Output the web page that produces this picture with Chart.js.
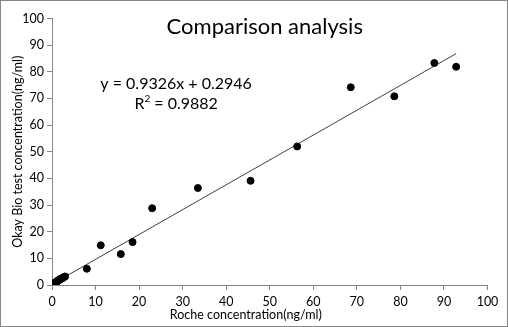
<!DOCTYPE html>
<html>
<head>
<meta charset="utf-8">
<script src="https://cdn.jsdelivr.net/npm/chart.js@4"></script>
<style>
  html, body { margin: 0; padding: 0; background: #fff; }
  #wrap { width: 508px; height: 327px; box-sizing: border-box; border: 1px solid #868686; position: relative; }
  canvas { display: block; }
</style>
</head>
<body>
<div id="wrap"><canvas id="c" width="506" height="325"></canvas></div>
<script>
const rocheValues = [
  0.1, 0.2, 0.3, 0.5, 0.6, 0.8, 0.9, 1.0, 1.1, 1.2, 1.3, 1.4, 1.5, 1.6, 1.8, 1.9, 2.0, 2.2, 2.4, 2.6, 2.8, 3.0,
  8.0, 11.2, 15.8, 18.5, 23.0, 33.5, 45.6, 56.3, 68.6, 78.6, 87.8, 92.8
];
const okayValues = [
  0.2, 0.3, 0.5, 0.6, 0.8, 0.9, 1.1, 1.2, 1.3, 1.4, 1.5, 1.7, 1.8, 1.9, 2.1, 2.2, 2.3, 2.4, 2.6, 2.8, 3.0, 3.2,
  6.1, 14.9, 11.6, 16.1, 28.8, 36.4, 39.1, 52.0, 74.2, 70.8, 83.3, 81.9
];
const slope = 0.9326;
const intercept = 0.2946;
const equationText = "y = 0.9326x + 0.2946";
const r2Text = "0.9882";
const tickValues = [0, 10, 20, 30, 40, 50, 60, 70, 80, 90, 100];
const titleText = "Comparison analysis";
const xTitle = "Roche concentration(ng/ml)";
const yTitle = "Okay Bio test concentration(ng/ml)";

const points = rocheValues.map((x, i) => ({ x: x, y: okayValues[i] }));
const xMin = Math.min(...rocheValues), xMax = Math.max(...rocheValues);
const trend = [
  { x: xMin, y: slope * xMin + intercept },
  { x: xMax, y: slope * xMax + intercept }
];

const FONT = "Lato, 'Open Sans', sans-serif";

const textPlugin = {
  id: 'texts',
  afterDraw(chart) {
    const ctx = chart.ctx;
    const xs = chart.scales.x, ys = chart.scales.y;
    const ca = chart.chartArea;
    ctx.save();
    ctx.fillStyle = '#000';
    ctx.textAlign = 'center';
    ctx.textBaseline = 'middle';
    // title
    ctx.font = "22px " + FONT;
    ctx.fillText(titleText, (ca.left + ca.right) / 2 - 5, 26);
    // axis titles
    ctx.font = "12.5px " + FONT;
    ctx.fillText(xTitle, xs.getPixelForValue(44.5), 314);
    ctx.save();
    ctx.translate(17, ys.getPixelForValue(50));
    ctx.rotate(-Math.PI / 2);
    ctx.fillText(yTitle, 0, 0);
    ctx.restore();
    // equation
    ctx.font = "16px " + FONT;
    const ex = xs.getPixelForValue(28.5);
    ctx.fillText(equationText, ex, ys.getPixelForValue(75.6));
    // R^2
    const ry = ys.getPixelForValue(67.8);
    const main = " = " + r2Text;
    const wR = ctx.measureText("R").width;
    ctx.font = "10px " + FONT;
    const w2 = ctx.measureText("2").width;
    ctx.font = "16px " + FONT;
    const wM = ctx.measureText(main).width;
    const total = wR + w2 + wM;
    let sx = ex - total / 2;
    ctx.textAlign = 'left';
    ctx.fillText("R", sx, ry);
    ctx.font = "10px " + FONT;
    ctx.fillText("2", sx + wR, ry - 6);
    ctx.font = "16px " + FONT;
    ctx.fillText(main, sx + wR + w2, ry);
    ctx.restore();
  }
};

new Chart(document.getElementById('c'), {
  type: 'scatter',
  data: {
    datasets: [
      {
        type: 'line',
        data: trend,
        borderColor: '#404040',
        borderWidth: 1,
        pointRadius: 0,
        fill: false,
        order: 2
      },
      {
        data: points,
        backgroundColor: '#000',
        borderColor: '#000',
        pointRadius: 3.5,
        pointHoverRadius: 3.5,
        order: 1
      }
    ]
  },
  options: {
    responsive: false,
    animation: false,
    events: [],
    layout: { padding: { top: 17.5, right: 19.5, bottom: 0, left: 0 } },
    plugins: { legend: { display: false }, tooltip: { enabled: false }, title: { display: false } },
    scales: {
      x: {
        type: 'linear',
        min: 0, max: 100,
        afterBuildTicks(scale) { scale.ticks = tickValues.map(v => ({ value: v })); },
        afterFit(scale) { scale.height = 41; },
        border: { color: '#868686', width: 1 },
        grid: { drawOnChartArea: false, drawTicks: true, tickLength: 5, color: '#868686' },
        ticks: { color: '#000', font: { family: FONT, size: 12.5 }, padding: 4, maxRotation: 0 },
        title: { display: false }
      },
      y: {
        type: 'linear',
        min: 0, max: 100,
        afterBuildTicks(scale) { scale.ticks = tickValues.map(v => ({ value: v })); },
        afterFit(scale) { scale.width = 51; },
        border: { color: '#868686', width: 1 },
        grid: { drawOnChartArea: false, drawTicks: true, tickLength: 5, color: '#868686' },
        ticks: { color: '#000', font: { family: FONT, size: 12.5 }, padding: 3 },
        title: { display: false }
      }
    }
  },
  plugins: [textPlugin]
});
</script>
</body>
</html>
